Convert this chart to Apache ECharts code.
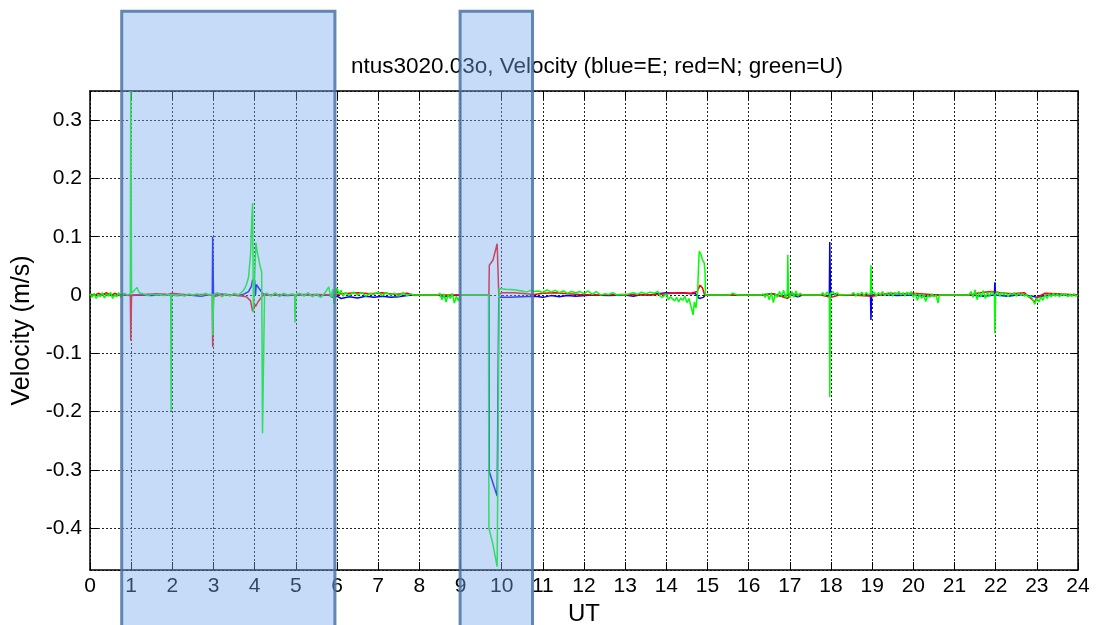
<!DOCTYPE html>
<html>
<head>
<meta charset="utf-8">
<title>ntus3020.03o velocity</title>
<script src="https://cdn.jsdelivr.net/npm/echarts@6/dist/echarts.min.js"></script>
<style>
  html, body { margin: 0; padding: 0; background: #fff; }
  #main { width: 1096px; height: 625px; }
</style>
</head>
<body>
<div id="main"></div>
<script>
// UT hours, velocity in m/s
const eastVel = [
  [0, 0.001], [0.2, -0.001], [0.4, 0.002], [0.6, -0.001], [0.8, 0.0], [1.0, -0.001], [1.2, 0.0],
  [1.5, -0.001], [1.8, 0.001], [2.1, -0.001], [2.4, 0.0], [2.7, -0.002], [2.9, 0.001], [2.97, 0.0],
  [2.98, 0.1], [3.0, 0.002], [3.3, 0.001], [3.6, -0.001], [3.75, 0.002], [3.85, 0.006], [3.92, 0.015],
  [3.95, 0.026], [4.0, 0.025], [4.02, 0.0], [4.04, 0.018], [4.1, 0.012], [4.15, 0.007], [4.2, 0.002],
  [4.4, 0.0], [4.8, -0.001], [5.2, 0.001], [5.6, -0.001], [5.8, 0.0], [5.9, -0.004], [6.0, -0.002],
  [6.1, -0.006], [6.3, -0.003], [6.5, -0.005], [6.7, -0.002], [6.9, -0.004], [7.1, -0.002], [7.3, -0.004],
  [7.5, -0.003], [7.7, -0.001], [7.85, 0.0], [8.45, 0.0], [8.6, -0.003], [8.8, -0.001], [9.0, 0.0],
  [9.69, 0.0], [9.7, -0.303], [9.89, -0.345], [9.93, -0.004], [10.2, -0.004], [10.5, -0.003],
  [10.8, -0.002], [11.0, -0.004], [11.2, -0.001], [11.4, -0.003], [11.6, -0.001], [11.8, -0.002],
  [12.2, 0.0], [12.6, -0.001], [13.0, 0.0], [13.2, -0.002], [13.4, 0.001], [13.6, 0.0], [13.8, 0.002],
  [14.0, 0.004], [14.2, 0.003], [14.4, 0.004], [14.6, 0.002], [14.7, 0.003], [14.8, -0.006], [14.9, -0.004],
  [14.95, 0.0], [16.3, 0.0], [16.6, 0.002], [16.8, -0.002], [17.0, 0.001], [17.2, -0.003], [17.3, 0.0],
  [17.75, 0.0], [17.9, -0.001], [17.96, 0.0], [17.97, 0.091], [17.99, 0.0], [18.1, 0.002], [18.2, 0.0],
  [18.5, 0.0], [18.7, 0.001], [18.96, 0.0], [18.97, -0.043], [18.99, 0.0], [19.3, 0.001], [19.6, -0.001],
  [20.0, 0.0], [20.3, -0.002], [20.6, 0.0], [21.4, 0.0], [21.7, -0.002], [21.97, 0.0], [21.98, 0.022],
  [22.0, 0.0], [22.3, -0.002], [22.6, 0.001], [22.9, -0.002], [23.0, -0.004], [23.2, -0.001], [23.5, 0.001],
  [23.8, -0.001], [24, 0.0]
];

const northVel = [
  [0, 0.002], [0.1, -0.001], [0.2, 0.003], [0.3, 0.0], [0.4, 0.004], [0.5, -0.001], [0.6, 0.003],
  [0.7, 0.0], [0.8, 0.001], [0.98, 0.0], [0.99, -0.078], [1.01, 0.0], [1.3, 0.001], [1.6, 0.002],
  [1.9, 0.001], [1.98, 0.003], [2.0, 0.006], [2.02, 0.001], [2.4, 0.0], [2.7, 0.001], [2.97, 0.0],
  [2.98, -0.089], [3.0, -0.003], [3.2, 0.001], [3.5, 0.0], [3.8, -0.003], [3.9, -0.01], [3.95, -0.028],
  [3.98, -0.031], [4.0, -0.015], [4.02, -0.02], [4.08, -0.012], [4.15, -0.005], [4.2, -0.001],
  [4.5, 0.001], [5.0, 0.0], [5.5, 0.001], [5.9, 0.0], [6.1, 0.002], [6.5, 0.004], [6.8, 0.002],
  [7.1, 0.004], [7.4, 0.001], [7.7, 0.003], [7.85, 0.0], [8.45, 0.0], [9.0, 0.0], [9.69, 0.0],
  [9.7, 0.051], [9.79, 0.06], [9.89, 0.088], [9.93, 0.0], [10.0, 0.004], [10.3, 0.004], [10.6, 0.002],
  [10.8, 0.001], [11.0, 0.003], [11.3, 0.004], [11.6, 0.002], [11.9, 0.001], [12.3, 0.0], [13.0, 0.001],
  [13.6, 0.0], [14.0, 0.002], [14.3, 0.004], [14.6, 0.003], [14.75, 0.006], [14.82, 0.017], [14.88, 0.012],
  [14.93, 0.0], [16.3, 0.0], [16.6, 0.002], [16.95, -0.006], [17.0, 0.002], [17.3, 0.0], [17.75, 0.0],
  [18.0, -0.004], [18.2, 0.0], [18.5, 0.0], [19.0, -0.002], [19.4, 0.003], [19.7, 0.002], [20.0, 0.003],
  [20.4, 0.001], [20.6, 0.0], [21.4, 0.0], [21.6, 0.004], [21.9, 0.006], [22.1, 0.004], [22.4, 0.002],
  [22.7, 0.004], [22.95, -0.012], [23.0, -0.004], [23.2, 0.003], [23.5, 0.002], [23.8, 0.001], [24, 0.0]
];

const upVel = [
  [0, 0.002], [0.05, -0.004], [0.1, 0.003], [0.15, -0.006], [0.2, 0.001], [0.25, -0.003], [0.3, 0.004],
  [0.35, -0.005], [0.4, 0.002], [0.45, -0.002], [0.5, 0.005], [0.55, -0.006], [0.6, 0.001], [0.65, -0.003],
  [0.7, 0.004], [0.75, -0.004], [0.8, 0.001], [0.85, 0.003], [0.9, 0.0], [0.98, 0.002], [0.99, 0.35],
  [1.01, 0.003], [1.08, 0.008], [1.14, 0.013], [1.2, 0.004], [1.3, 0.002], [1.4, -0.001], [1.5, 0.002],
  [1.6, 0.0], [1.7, 0.001], [1.8, -0.001], [1.9, 0.001], [1.96, 0.0], [1.97, -0.199], [1.98, 0.001],
  [2.1, -0.001], [2.2, 0.001], [2.3, -0.002], [2.4, 0.002], [2.5, 0.0], [2.6, 0.002], [2.7, -0.001],
  [2.8, 0.003], [2.9, 0.0], [2.97, 0.001], [2.98, -0.069], [3.0, -0.01], [3.02, 0.002], [3.1, 0.004],
  [3.2, -0.003], [3.3, 0.002], [3.4, -0.002], [3.5, 0.003], [3.6, 0.0], [3.7, 0.006], [3.75, 0.01],
  [3.8, 0.018], [3.85, 0.03], [3.9, 0.07], [3.93, 0.13], [3.95, 0.158], [3.97, -0.03], [4.03, 0.09],
  [4.06, 0.075], [4.09, 0.065], [4.13, 0.05], [4.17, 0.04], [4.19, -0.237], [4.24, 0.002], [4.3, 0.003],
  [4.4, -0.002], [4.5, 0.004], [4.6, -0.003], [4.7, 0.003], [4.8, 0.0], [4.9, 0.002], [4.97, 0.001],
  [4.98, -0.047], [5.0, 0.001], [5.1, 0.003], [5.2, -0.002], [5.3, 0.004], [5.4, -0.003], [5.5, 0.002],
  [5.6, -0.004], [5.7, 0.003], [5.8, 0.014], [5.85, -0.004], [5.9, 0.01], [5.93, -0.016], [6.0, 0.012],
  [6.05, 0.002], [6.1, 0.008], [6.15, -0.002], [6.2, 0.004], [6.3, -0.001], [6.4, 0.005], [6.5, 0.0],
  [6.6, 0.004], [6.7, -0.002], [6.8, 0.003], [6.9, 0.001], [7.0, 0.005], [7.1, -0.001], [7.2, 0.004],
  [7.3, 0.0], [7.4, 0.003], [7.5, -0.002], [7.6, 0.004], [7.7, -0.001], [7.8, 0.002], [7.85, 0.0],
  [8.45, 0.0], [8.5, 0.003], [8.55, -0.008], [8.6, 0.002], [8.65, -0.012], [8.7, 0.001], [8.75, -0.006],
  [8.8, 0.003], [8.85, -0.014], [8.9, -0.002], [8.95, -0.01], [9.0, 0.0], [9.68, 0.0], [9.69, -0.4],
  [9.78, -0.425], [9.89, -0.466], [9.94, 0.011], [10.1, 0.01], [10.3, 0.009], [10.5, 0.007], [10.6, 0.005],
  [10.7, 0.008], [10.8, 0.006], [10.9, 0.007], [11.0, 0.004], [11.1, 0.009], [11.2, 0.005], [11.3, 0.008],
  [11.4, 0.004], [11.5, 0.007], [11.6, 0.003], [11.7, 0.006], [11.8, 0.004], [11.9, 0.006], [12.0, 0.002],
  [12.1, 0.007], [12.2, 0.001], [12.3, 0.006], [12.4, 0.0], [12.5, 0.002], [12.6, 0.001], [12.7, 0.004],
  [12.8, 0.0], [12.9, 0.001], [13.0, 0.0], [13.1, 0.002], [13.2, 0.004], [13.3, 0.001], [13.4, 0.005],
  [13.5, 0.002], [13.6, 0.005], [13.7, 0.003], [13.8, 0.006], [13.85, -0.002], [13.9, -0.004], [14.0, 0.002],
  [14.05, -0.008], [14.1, -0.003], [14.2, -0.01], [14.25, -0.004], [14.3, -0.012], [14.35, -0.005],
  [14.4, -0.009], [14.45, -0.002], [14.5, -0.013], [14.55, -0.006], [14.6, -0.02], [14.65, -0.034],
  [14.68, -0.012], [14.72, -0.022], [14.76, 0.004], [14.78, 0.045], [14.8, 0.075], [14.84, 0.07],
  [14.88, 0.06], [14.92, 0.055], [14.94, 0.04], [14.95, 0.0], [15.55, 0.0], [15.6, 0.003], [15.7, 0.001],
  [15.75, 0.0], [16.3, 0.0], [16.35, 0.002], [16.4, -0.004], [16.45, 0.003], [16.5, -0.008], [16.55, 0.004],
  [16.6, -0.013], [16.65, 0.002], [16.7, -0.004], [16.75, 0.006], [16.8, -0.002], [16.85, 0.008],
  [16.9, -0.006], [16.94, 0.004], [16.95, 0.069], [16.97, 0.003], [17.0, -0.005], [17.05, 0.006],
  [17.1, -0.004], [17.15, 0.007], [17.2, -0.002], [17.25, 0.003], [17.3, 0.0], [17.75, 0.0], [17.8, 0.004],
  [17.85, -0.002], [17.9, 0.005], [17.96, 0.001], [17.97, -0.175], [17.99, 0.003], [18.05, 0.006],
  [18.1, -0.001], [18.15, 0.004], [18.2, 0.0], [18.5, 0.001], [18.55, 0.004], [18.6, -0.002], [18.65, 0.003],
  [18.7, 0.0], [18.75, 0.005], [18.8, -0.001], [18.85, 0.004], [18.9, 0.001], [18.96, 0.002], [18.97, 0.051],
  [18.99, 0.002], [19.05, 0.005], [19.1, -0.002], [19.15, 0.004], [19.2, 0.0], [19.25, 0.006], [19.3, -0.001],
  [19.35, 0.003], [19.4, 0.0], [19.45, 0.005], [19.5, -0.002], [19.55, 0.004], [19.6, 0.001], [19.65, 0.006],
  [19.7, 0.0], [19.75, 0.004], [19.8, -0.002], [19.85, 0.005], [19.9, 0.0], [19.95, 0.006], [20.0, -0.004],
  [20.05, 0.003], [20.1, -0.009], [20.15, 0.002], [20.2, -0.006], [20.25, 0.001], [20.3, -0.011],
  [20.35, 0.0], [20.4, -0.004], [20.45, 0.002], [20.5, -0.003], [20.55, 0.0], [20.6, -0.014], [20.63, 0.0],
  [21.35, 0.0], [21.4, 0.006], [21.45, -0.004], [21.5, 0.009], [21.55, -0.008], [21.6, 0.005], [21.65, -0.003],
  [21.7, 0.008], [21.75, -0.006], [21.8, 0.004], [21.85, -0.002], [21.9, 0.006], [21.97, 0.0], [21.98, -0.065],
  [22.0, 0.002], [22.05, 0.006], [22.1, -0.002], [22.15, 0.005], [22.2, 0.0], [22.25, 0.004], [22.3, -0.003],
  [22.35, 0.003], [22.4, 0.0], [22.45, 0.004], [22.5, -0.002], [22.55, 0.003], [22.6, 0.0], [22.65, 0.002],
  [22.7, -0.002], [22.75, 0.001], [22.8, -0.004], [22.85, -0.001], [22.9, -0.008], [22.95, -0.016],
  [23.0, -0.005], [23.05, -0.012], [23.1, -0.003], [23.15, -0.009], [23.2, 0.001], [23.25, -0.006],
  [23.3, 0.002], [23.35, -0.003], [23.4, 0.003], [23.45, -0.002], [23.5, 0.002], [23.55, -0.003],
  [23.6, 0.003], [23.65, -0.001], [23.7, 0.002], [23.75, -0.003], [23.8, 0.001], [23.85, -0.002],
  [23.9, 0.002], [23.95, -0.002], [24, 0.0]
];

// shaded UT windows [start, end]
const shadedSpans = [[0.77, 5.95], [8.99, 10.75]];

const yMin = -0.4717;
const yMax = 0.35;
const shadeTop = 0.487;
const shadeBottom = -0.62;

const font = 'Liberation Sans, Arial, sans-serif';
const chart = echarts.init(document.getElementById('main'));

const dotted = { show: true, lineStyle: { color: '#222', type: [2, 2], width: 1 } };
const frameLine = { onZero: false, lineStyle: { color: '#000', width: 1.5 } };
const innerTick = { inside: true, length: 8, lineStyle: { color: '#000' } };

const option = {
  animation: false,
  backgroundColor: '#fff',
  textStyle: { fontFamily: font },
  title: {
    text: 'ntus3020.03o, Velocity (blue=E; red=N; green=U)',
    left: 592,
    top: 50,
    textAlign: 'center',
    textStyle: { fontSize: 22.5, fontWeight: 'normal', color: '#000', fontFamily: font }
  },
  grid: { left: 90, right: 18, top: 91, bottom: 55, outerBoundsMode: 'none', containLabel: false },
  xAxis: [
    {
      type: 'value', min: 0, max: 24, interval: 1,
      name: 'UT', nameLocation: 'middle', nameGap: 28,
      nameTextStyle: { fontSize: 24, color: '#000', fontFamily: font },
      axisLine: frameLine,
      axisTick: innerTick,
      axisLabel: { fontSize: 21, color: '#000', margin: 6, fontFamily: font },
      splitLine: dotted
    },
    {
      type: 'value', min: 0, max: 24, interval: 1, position: 'top',
      axisLine: frameLine,
      axisTick: innerTick,
      axisLabel: { show: false },
      splitLine: { show: false }
    }
  ],
  yAxis: [
    {
      type: 'value', min: yMin, max: yMax, splitNumber: 8,
      name: 'Velocity (m/s)', nameLocation: 'middle', nameGap: 52,
      nameTextStyle: { fontSize: 25, color: '#000', fontFamily: font },
      axisLine: frameLine,
      axisTick: innerTick,
      axisLabel: { fontSize: 21, color: '#000', margin: 8, showMinLabel: false, showMaxLabel: false, fontFamily: font },
      splitLine: dotted
    },
    {
      type: 'value', min: yMin, max: yMax, splitNumber: 8, position: 'right',
      axisLine: frameLine,
      axisTick: innerTick,
      axisLabel: { show: false },
      splitLine: { show: false }
    }
  ],
  series: [
    { name: 'E', type: 'line', data: eastVel, showSymbol: false, symbol: 'none', z: 3,
      lineStyle: { color: '#0000ff', width: 1.5 } },
    { name: 'N', type: 'line', data: northVel, showSymbol: false, symbol: 'none', z: 4,
      lineStyle: { color: '#ff0000', width: 1.5 } },
    { name: 'U', type: 'line', data: upVel, showSymbol: false, symbol: 'none', z: 5,
      lineStyle: { color: '#00ff00', width: 1.5 } },
    {
      type: 'custom', data: shadedSpans, clip: false, silent: true, z: 20,
      encode: { x: [0, 1] },
      renderItem: function (params, api) {
        const p0 = api.coord([api.value(0), shadeTop]);
        const p1 = api.coord([api.value(1), shadeBottom]);
        return {
          type: 'rect',
          shape: { x: p0[0], y: p0[1], width: p1[0] - p0[0], height: p1[1] - p0[1] },
          style: { fill: 'rgba(120,170,235,0.42)', stroke: 'rgba(75,115,165,0.85)', lineWidth: 3 }
        };
      }
    }
  ]
};

chart.setOption(option);
</script>
</body>
</html>
